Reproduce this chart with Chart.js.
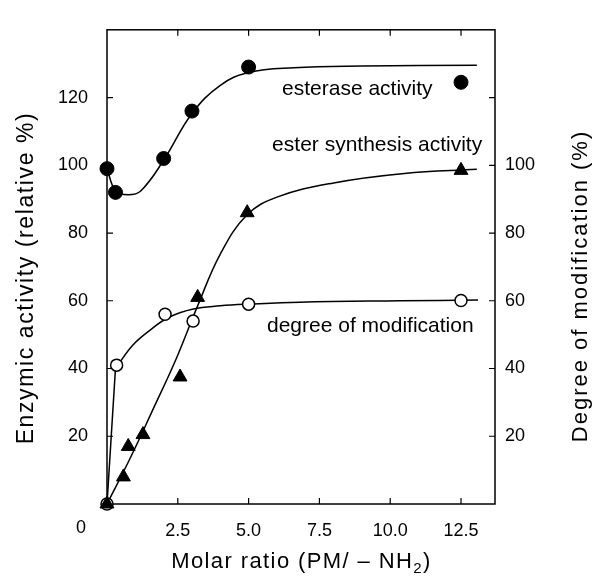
<!DOCTYPE html>
<html>
<head>
<meta charset="utf-8">
<script src="https://cdn.jsdelivr.net/npm/chart.js@4.4.1/dist/chart.umd.min.js"></script>
<style>
  html, body { margin: 0; padding: 0; background: #fff; }
  canvas { display: block; }
</style>
</head>
<body>
<canvas id="chart" width="594" height="583"></canvas>
<script>
// !======= measured points =========
const esteraseX = [0, 0.3, 2.0, 3.0, 5.0, 12.5];
const esteraseY = [99, 92, 102, 116, 129, 124.5];
const synthesisX = [0, 0.58, 0.75, 1.27, 2.58, 3.2, 4.95, 12.5];
const synthesisY = [0, 8, 17, 20.5, 37.5, 61, 86, 98.5];
const modificationX = [0, 0.34, 2.05, 3.04, 5.0, 12.5];
const modificationY = [0, 41, 56, 54, 59, 60.1];

// !======= hand drawn curves =============================
const esteraseCurveX = [0, 0.3, 0.75, 1.2, 2.0, 3.0, 4.0, 5.0, 6.6, 9.0, 13.06];
const esteraseCurveY = [99, 92.5, 91.3, 92.5, 101.5, 115.3, 123.6, 127.4, 128.8, 129.3, 129.5];
const synthesisCurveX = [0, 0.8, 1.6, 2.46, 3.2, 4.0, 4.94, 6.0, 8.0, 10.5, 13.06];
const synthesisCurveY = [0, 13.2, 27.5, 43.2, 58.5, 73.8, 85.3, 90.6, 94.8, 97.6, 98.8];
const modificationRiseX = [0, 0.3];
const modificationRiseY = [0, 40];
const modificationCurveX = [0.3, 0.9, 1.5, 2.2, 3.05, 4.0, 5.0, 6.8, 10.35, 13.1];
const modificationCurveY = [40, 46.8, 51.2, 55.2, 57.6, 58.5, 59, 59.6, 60, 60.2];

// !======= ticks =========
const xTicks = [2.5, 5.0, 7.5, 10.0, 12.5];
const leftTicks = [20, 40, 60, 80, 100, 120];
const rightTicks = [20, 40, 60, 80, 100];

const pts = (xs, ys) => xs.map((x, i) => ({ x: x, y: ys[i] }));

Chart.defaults.font.family = "'Liberation Sans', Arial, sans-serif";
Chart.defaults.color = "#000";

const decor = {
  id: "decor",
  beforeDatasetsDraw(chart) {
    const { ctx, chartArea: a, scales } = chart;
    ctx.save();
    ctx.strokeStyle = "#000";
    ctx.lineWidth = 1.5;
    ctx.strokeRect(a.left, a.top, a.right - a.left, a.bottom - a.top);
    ctx.lineWidth = 1.2;
    ctx.beginPath();
    xTicks.forEach((v) => {
      const px = scales.x.getPixelForValue(v);
      ctx.moveTo(px, a.bottom); ctx.lineTo(px, a.bottom - 6);
      ctx.moveTo(px, a.top); ctx.lineTo(px, a.top + 6);
    });
    leftTicks.forEach((v) => {
      const py = scales.y.getPixelForValue(v);
      ctx.moveTo(a.left, py); ctx.lineTo(a.left + 6, py);
      ctx.moveTo(a.right, py); ctx.lineTo(a.right - 6, py);
    });
    ctx.stroke();
    ctx.restore();
  },
  afterDraw(chart) {
    const { ctx, chartArea: a, scales } = chart;
    ctx.save();
    ctx.fillStyle = "#000";
    // curve labels
    ctx.font = "21px 'Liberation Sans', Arial";
    ctx.textAlign = "left";
    ctx.textBaseline = "alphabetic";
    const labels = [
      ["esterase activity", 6.18, 120.7],
      ["ester synthesis activity", 5.83, 104.2],
      ["degree of modification", 5.65, 50.7],
    ];
    labels.forEach(([t, x, y]) => {
      ctx.fillText(t, scales.x.getPixelForValue(x), scales.y.getPixelForValue(y));
    });
    // shared origin label
    ctx.font = "18px 'Liberation Sans', Arial";
    ctx.textAlign = "center";
    ctx.textBaseline = "middle";
    ctx.fillText("0", a.left - 26, a.bottom + 24);

    // left title
    ctx.save();
    ctx.translate(33, 278);
    ctx.rotate(-Math.PI / 2);
    ctx.font = "23px 'Liberation Sans', Arial";
    ctx.letterSpacing = "1.6px";
    ctx.textBaseline = "alphabetic";
    ctx.fillText("Enzymic activity (relative %)", 0, 0);
    ctx.restore();

    // right title
    ctx.save();
    ctx.translate(587, 286);
    ctx.rotate(-Math.PI / 2);
    ctx.font = "22px 'Liberation Sans', Arial";
    ctx.letterSpacing = "2px";
    ctx.textBaseline = "alphabetic";
    ctx.fillText("Degree of modification (%)", 0, 0);
    ctx.restore();

    // bottom title with subscript
    ctx.save();
    ctx.textAlign = "left";
    ctx.textBaseline = "alphabetic";
    ctx.letterSpacing = "1.4px";
    const main = "Molar ratio (PM/ \u2013 NH";
    ctx.font = "22px 'Liberation Sans', Arial";
    const w1 = ctx.measureText(main).width;
    const w3 = ctx.measureText(")").width;
    ctx.font = "15px 'Liberation Sans', Arial";
    const w2 = ctx.measureText("2").width;
    let x0 = 301.5 - (w1 + w2 + w3) / 2;
    const base = 568;
    ctx.font = "22px 'Liberation Sans', Arial";
    ctx.fillText(main, x0, base);
    ctx.font = "15px 'Liberation Sans', Arial";
    ctx.fillText("2", x0 + w1, base + 5);
    ctx.font = "22px 'Liberation Sans', Arial";
    ctx.fillText(")", x0 + w1 + w2, base);
    ctx.restore();
    ctx.restore();
  },
};

const curveStyle = {
  showLine: true,
  pointRadius: 0,
  borderColor: "#000",
  borderWidth: 1.5,
  tension: 0.4,
  clip: false,
};

new Chart(document.getElementById("chart"), {
  type: "scatter",
  data: {
    datasets: [
      {
        label: "ester synthesis activity",
        data: pts(synthesisX, synthesisY),
        pointStyle: "triangle",
        pointRadius: 8,
        pointBackgroundColor: "#000",
        pointBorderColor: "#000",
        pointBorderWidth: 1,
        clip: false,
      },
      {
        label: "esterase activity",
        data: pts(esteraseX, esteraseY),
        pointStyle: "circle",
        pointRadius: 7,
        pointBackgroundColor: "#000",
        pointBorderColor: "#000",
        pointBorderWidth: 1,
        clip: false,
      },
      {
        label: "degree of modification",
        data: pts(modificationX, modificationY),
        yAxisID: "y2",
        pointStyle: "circle",
        pointRadius: 6,
        pointBackgroundColor: "#fff",
        pointBorderColor: "#000",
        pointBorderWidth: 1.5,
        clip: false,
      },
      { ...curveStyle, data: pts(esteraseCurveX, esteraseCurveY) },
      { ...curveStyle, data: pts(synthesisCurveX, synthesisCurveY) },
      { ...curveStyle, tension: 0, data: pts(modificationRiseX, modificationRiseY), yAxisID: "y2" },
      { ...curveStyle, data: pts(modificationCurveX, modificationCurveY), yAxisID: "y2" },
    ],
  },
  options: {
    responsive: false,
    animation: false,
    layout: { padding: { top: 12, left: 0, right: 0, bottom: 0 } },
    plugins: { legend: { display: false }, tooltip: { enabled: false } },
    scales: {
      x: {
        type: "linear",
        min: 0,
        max: 13.7,
        grid: { display: false, drawTicks: false },
        border: { display: false },
        afterBuildTicks: (s) => { s.ticks = xTicks.map((v) => ({ value: v })); },
        afterFit: (s) => { s.height = 79; },
        ticks: { font: { size: 18 }, padding: 16, callback: (v) => v.toFixed(1), maxRotation: 0 },
      },
      y: {
        position: "left",
        min: 0,
        max: 140,
        grid: { display: false, drawTicks: false },
        border: { display: false },
        afterBuildTicks: (s) => { s.ticks = leftTicks.map((v) => ({ value: v })); },
        afterFit: (s) => { s.width = 107; },
        ticks: { font: { size: 18 }, padding: 19 },
      },
      y2: {
        position: "right",
        min: 0,
        max: 140,
        grid: { display: false, drawTicks: false },
        border: { display: false },
        afterBuildTicks: (s) => { s.ticks = rightTicks.map((v) => ({ value: v })); },
        afterFit: (s) => { s.width = 99; },
        ticks: { font: { size: 18 }, padding: 10 },
      },
    },
  },
  plugins: [decor],
});
</script>
</body>
</html>
